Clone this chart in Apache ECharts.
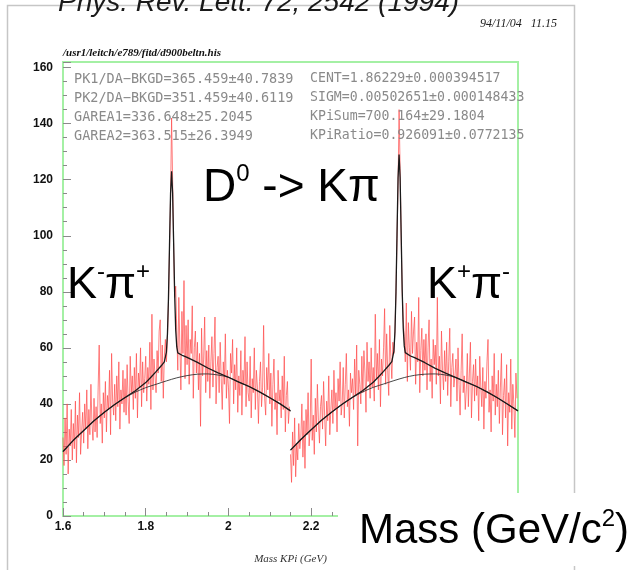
<!DOCTYPE html>
<html><head><meta charset="utf-8">
<script src="https://cdn.jsdelivr.net/npm/echarts/dist/echarts.min.js"></script>
<style>html,body{margin:0;padding:0;background:#fff}#c{width:632px;height:570px}</style>
</head><body><div id="c"></div><script>
// ---- data ----
const BIN_WIDTH = 0.0025;
const START_KMPIP = 1.6;    // K- pi+ half
const START_KPPIM = 2.15;   // K+ pi- half (shifted copy)
const HALF_SHIFT = 0.55;

const countsKmPip = [
 28,18,35,22,40,15,31,25,38,20, 33,24,41,19,36,28,44,22,30,37,
 26,40,31,45,24,38,29,47,33,27, 42,30,39,28,46,61,33,40,26,44,
 35,48,30,43,38,52,29,58,41,36, 47,34,50,39,55,31,45,40,52,37,
 49,36,54,41,33,57,44,50,38,53, 42,58,35,51,46,60,39,55,44,49,
 57,41,53,47,62,38,72,45,56,50, 44,59,51,66,70,48,61,42,57,63,
 55,64,76,95,113,142,120,96,78,82, 66,52,78,61,45,73,58,84,49,68,
 54,70,47,63,58,75,42,60,66,51, 62,45,58,32,67,50,56,71,44,59,
 48,61,42,55,64,46,58,71,40,53, 57,44,62,49,38,55,47,65,42,52,
 46,33,58,51,63,40,54,45,60,37, 50,43,59,36,52,47,64,39,55,44,
 41,57,35,49,44,60,38,52,46,33, 48,55,39,46,68,42,36,53,45,58,
 40,51,32,47,56,38,44,29,52,41, 45,35,50,38,57,30,43,48,33,39
];
const countsKpPim = [
 22,12,30,18,35,14,26,20,33,24, 28,40,21,34,17,38,29,44,25,31,
 56,27,36,22,42,30,47,34,26,39, 43,31,48,36,25,41,34,50,29,38,
 45,33,52,38,44,30,49,41,55,36, 40,53,35,47,58,39,45,32,51,44,
 49,38,56,43,61,25,52,47,40,57, 44,59,51,37,62,48,55,42,60,46,
 53,41,72,49,58,45,63,39,56,50, 60,74,47,65,52,43,68,57,49,62,
 58,66,80,99,118,145,124,100,80,70, 64,55,76,48,69,60,52,73,58,66,
 71,47,62,55,78,44,59,67,50,63, 52,65,45,60,70,48,56,42,63,54,
 61,47,78,50,57,40,66,52,45,59, 48,62,43,55,67,39,53,58,46,50,
 56,41,60,47,36,52,65,44,50,38, 45,58,39,51,62,35,48,54,41,56,
 43,50,34,57,46,39,53,31,48,42, 55,63,37,45,30,50,41,58,36,47,
 39,52,33,46,58,29,43,49,35,54, 25,44,37,56,31,47,40,28,51,42
];

// fit curves (signal + background) and background only
const totalMass1 = [1.600,1.625,1.650,1.675,1.700,1.725,1.750,1.775,1.800,1.8125,1.825,1.8375,1.845,
 1.8475,1.850,1.8525,1.855,1.8575,1.860,1.8625,1.865,1.8675,1.870,1.8725,1.875,1.8775,1.880,
 1.890,1.900,1.925,1.950,1.975,2.000,2.025,2.050,2.075,2.100,2.125,2.150];
const totalVal1 = [23,27,30.5,34,37,39.8,42.3,44.7,47.6,49.5,51.5,53.6,55.0,
 55.7,58.5,64.9,77.8,96.7,115,123,115.2,97.3,78.8,66.4,60.4,58.2,57.6,
 57.2,56.6,54.8,52.8,51.1,49.5,47.8,46.2,44.3,42.2,40.0,37.5];
const totalVal2 = [23.5,27.3,30.8,34.2,37.1,39.9,42.4,44.8,47.7,49.6,51.6,53.7,55.1,
 55.8,58.8,65.7,79.8,100.4,120.5,129,120.7,101,80.8,67.2,60.7,58.3,57.6,
 57.1,56.5,54.7,52.7,51.0,49.4,47.8,46.2,44.3,42.2,39.9,37.5];
const bkgMass1 = [1.600,1.625,1.650,1.675,1.700,1.725,1.750,1.775,1.800,1.825,1.850,1.875,
 1.900,1.925,1.950,1.975,2.000,2.025,2.050,2.075,2.100,2.125,2.150];
const bkgVal1 = [23,27,30.5,34,37,39.8,42.2,44.2,45.8,47.0,48.2,49.3,50.1,50.6,50.7,50.3,49.5,47.8,46.2,44.3,42.2,40.0,37.5];
const bkgVal2 = [23.5,27.3,30.8,34.2,37.1,39.9,42.3,44.3,45.9,47.1,48.3,49.4,50.2,50.6,50.7,50.3,49.4,47.8,46.2,44.3,42.2,39.9,37.5];

const xTicks = [1.6, 1.8, 2, 2.2];
const statsLeft = ['PK1/DA\u2212BKGD=365.459\u00b140.7839','PK2/DA\u2212BKGD=351.459\u00b140.6119','GAREA1=336.648\u00b125.2045','GAREA2=363.515\u00b126.3949'];
const statsRight = ['CENT=1.86229\u00b10.000394517','SIGM=0.00502651\u00b10.000148433','KPiSum=700.164\u00b129.1804','KPiRatio=0.926091\u00b10.0772135'];
const TITLE = 'Phys. Rev. Lett. 72, 2542 (1994)';
const STAMP = '94/11/04   11.15';
const FILEPATH = '/usr1/leitch/e789/fitd/d900beltn.his';
const XNAME = 'Mass KPi (GeV)';

// ---- build ----
const hist = (start, arr) => arr.map((v, i) => [+(start + i * BIN_WIDTH).toFixed(4), v]);
const pairs = (xs, ys, shift) => xs.map((x, i) => [+(x + shift).toFixed(4), ys[i]]);

const chart = echarts.init(document.getElementById('c'), null, {renderer: 'canvas'});
const grey = '#8a8a8a';
const mk = size => ({
 b: {fontSize: size, fontFamily: 'Liberation Sans', fill: '#000', lineHeight: size + 3, verticalAlign: 'bottom'},
 s: {fontSize: 24, fontFamily: 'Liberation Sans', fill: '#000', lineHeight: 24, verticalAlign: 'top'}
});

const gfx = [
 {type: 'rect', z: 0, silent: true, shape: {x: 7.5, y: 5.5, width: 567, height: 600}, style: {fill: 'none', stroke: '#c6c6c6', lineWidth: 1.5}},
 {type: 'text', z: 50, x: 58, y: 3, style: {text: TITLE, fontSize: 28, fontStyle: 'italic', fontFamily: 'Liberation Sans', fill: '#1a1a1a', verticalAlign: 'middle'}},
 {type: 'text', z: 50, x: 480, y: 24, style: {text: STAMP, fontSize: 12, fontStyle: 'italic', fontFamily: 'Liberation Serif', fill: '#222', verticalAlign: 'middle'}},
 {type: 'text', z: 50, x: 63, y: 53, style: {text: FILEPATH, fontSize: 11, fontStyle: 'italic', fontWeight: 'bold', fontFamily: 'Liberation Serif', fill: '#111', verticalAlign: 'middle'}}
];
statsLeft.forEach((t, i) => gfx.push({type: 'text', z: 50, x: 74, y: 79 + i * 19, style: {text: t, fontSize: 13.5, fontFamily: 'DejaVu Sans Mono', fill: grey, verticalAlign: 'middle'}}));
statsRight.forEach((t, i) => gfx.push({type: 'text', z: 50, x: 310, y: 79 + i * 19, style: {text: t, fontSize: 13.2, fontFamily: 'DejaVu Sans Mono', fill: grey, verticalAlign: 'middle'}}));
gfx.push(
 {type: 'text', z: 60, x: 203, y: 187, style: {text: '{b|D}{s|0}{b| -> K\u03c0}', rich: mk(46), verticalAlign: 'middle'}},
 {type: 'text', z: 60, x: 67, y: 284, style: {text: '{b|K}{s|-}{b|\u03c0}{s|+}', rich: mk(45), verticalAlign: 'middle'}},
 {type: 'text', z: 60, x: 427, y: 284, style: {text: '{b|K}{s|+}{b|\u03c0}{s|-}', rich: mk(45), verticalAlign: 'middle'}},
 {type: 'rect', z: 55, silent: true, shape: {x: 338, y: 493, width: 294, height: 73}, style: {fill: '#fff'}},
 {type: 'text', z: 60, x: 359, y: 530, style: {text: '{b|Mass (GeV/c}{s|2}{b|)}', rich: mk(42), verticalAlign: 'middle'}}
);

const isTick = v => xTicks.some(t => Math.abs(t - v) < 1e-6);
const redLine = {color: '#ff4d4d', width: 1, opacity: 0.72};

chart.setOption({
 animation: false,
 backgroundColor: '#fff',
 grid: {left: 63, right: 114, top: 62, bottom: 54, show: true, borderColor: '#a4f0a4', borderWidth: 2, backgroundColor: 'transparent'},
 xAxis: {
  type: 'value', min: 1.6, max: 2.7, interval: 0.2,
  name: XNAME, nameLocation: 'middle', nameGap: 38,
  nameTextStyle: {fontFamily: 'Liberation Serif', fontStyle: 'italic', fontSize: 11, color: '#333'},
  axisLine: {show: false},
  axisTick: {show: true, inside: true, length: 8, lineStyle: {color: grey}},
  minorTick: {show: true, splitNumber: 4, length: 4, lineStyle: {color: grey}},
  splitLine: {show: false},
  axisLabel: {margin: 5, fontFamily: 'Liberation Sans', fontWeight: 'bold', fontSize: 12, color: '#111',
   formatter: v => isTick(v) ? String(+v.toFixed(2)) : ''}
 },
 yAxis: [
  {type: 'value', min: 0, max: 162, interval: 5,
   axisLine: {show: false},
   axisTick: {show: true, inside: true, length: 4, lineStyle: {color: grey}},
   splitLine: {show: false},
   axisLabel: {margin: 10, fontFamily: 'Liberation Sans', fontWeight: 'bold', fontSize: 12, color: '#111',
    formatter: v => (v % 20 === 0 ? String(v) : '')}},
  {type: 'value', min: 0, max: 162, interval: 20, position: 'left',
   axisLine: {show: false},
   axisTick: {show: true, inside: true, length: 8, lineStyle: {color: grey}},
   splitLine: {show: false}, axisLabel: {show: false}}
 ],
 series: [
  {type: 'line', name: 'K-pi+', data: hist(START_KMPIP, countsKmPip), showSymbol: false, lineStyle: redLine, z: 2},
  {type: 'line', name: 'K+pi-', data: hist(START_KPPIM, countsKpPim), showSymbol: false, lineStyle: redLine, z: 2},
  {type: 'line', name: 'bkg1', data: pairs(bkgMass1, bkgVal1, 0), showSymbol: false, smooth: 0.3, lineStyle: {color: '#333', width: 0.9}, z: 3},
  {type: 'line', name: 'bkg2', data: pairs(bkgMass1, bkgVal2, HALF_SHIFT), showSymbol: false, smooth: 0.3, lineStyle: {color: '#333', width: 0.9}, z: 3},
  {type: 'line', name: 'fit1', data: pairs(totalMass1, totalVal1, 0), showSymbol: false, lineStyle: {color: '#1a1a1a', width: 1.3}, z: 4},
  {type: 'line', name: 'fit2', data: pairs(totalMass1, totalVal2, HALF_SHIFT), showSymbol: false, lineStyle: {color: '#1a1a1a', width: 1.3}, z: 4}
 ],
 graphic: gfx
});
</script></body></html>
